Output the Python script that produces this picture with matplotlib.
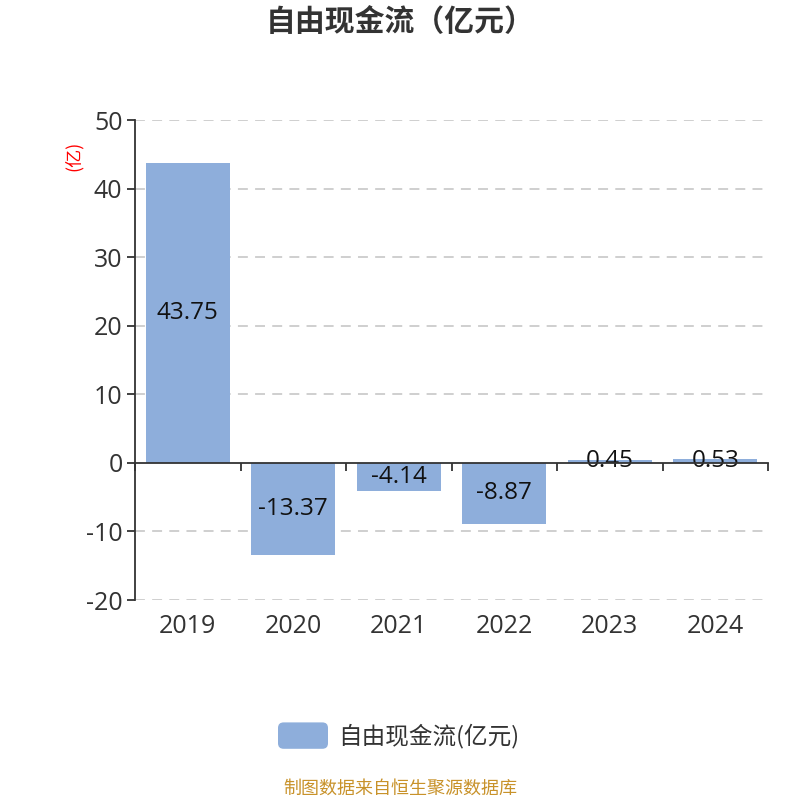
import matplotlib
matplotlib.use('Agg')
import matplotlib.pyplot as plt
from matplotlib.patches import FancyBboxPatch

plt.rcParams['font.family'] = ['Noto Sans CJK SC', 'DejaVu Sans']
num_font = ['Open Sans', 'Noto Sans CJK SC']

# data
years = ['2019', '2020', '2021', '2022', '2023', '2024']
fcf = [43.75, -13.37, -4.14, -8.87, 0.45, 0.53]
yticks = [-20, -10, 0, 10, 20, 30, 40, 50]

bar_color = '#8eaedb'
axis_color = '#333333'

fig = plt.figure(figsize=(8, 8), dpi=100)
ax = fig.add_axes([0.16875, 0.25, 0.79125, 0.60])

x = list(range(len(years)))
bars = ax.bar(x, fcf, width=0.8, color=bar_color, zorder=2)

# labels in the middle of each bar
for xi, v in zip(x, fcf):
    ax.text(xi, v / 2, f'{v:.2f}', ha='center', va='center',
            fontsize=17.5, color='#111111', family=num_font, zorder=3)

ax.set_xlim(-0.5, len(years) - 0.5)
ax.set_ylim(-20, 50)
ax.set_yticks(yticks)
ax.set_yticklabels([str(t) for t in yticks], family=num_font)

# grid
for t in yticks:
    if t != 0:
        ax.axhline(t, color='#cccccc', linestyle=(0, (5.5, 4)), linewidth=1.3, zorder=1)

# spines
for s in ['top', 'right']:
    ax.spines[s].set_visible(False)
ax.spines['left'].set_color(axis_color)
ax.spines['left'].set_linewidth(1.3)
ax.spines['bottom'].set_position(('data', 0))
ax.spines['bottom'].set_color(axis_color)
ax.spines['bottom'].set_linewidth(1.3)
ax.spines['bottom'].set_zorder(4)

ax.set_xticks([i - 0.5 for i in range(len(years) + 1)])
ax.set_xticklabels([])
ax.tick_params(axis='x', direction='out', length=6, width=1.3, color=axis_color)
ax.tick_params(axis='y', direction='out', length=6, width=1.3, color=axis_color,
               labelsize=18, labelcolor=axis_color, pad=3)

# category labels at the bottom of the plot area
sec = ax.secondary_xaxis('bottom')
sec.set_xticks(x)
sec.set_xticklabels(years, family=num_font)
sec.tick_params(length=0, labelsize=18, labelcolor=axis_color, pad=10)
sec.spines['bottom'].set_visible(False)

# unit label
fig.text(0.0915, 0.8055, '(亿)', color='red', fontsize=13, rotation=90,
         ha='center', va='center')

# title
fig.text(0.5, 0.972, '自由现金流（亿元）', fontsize=21.5, fontweight='bold',
         color=axis_color, ha='center', va='center')

# legend
patch = FancyBboxPatch((0.3475, 0.064), 0.0625, 0.033,
                       boxstyle='round,pad=0,rounding_size=0.007',
                       transform=fig.transFigure, facecolor=bar_color,
                       edgecolor='none')
fig.patches.append(patch)
fig.text(0.423, 0.0806, '自由现金流(亿元)', fontsize=17, color=axis_color,
         ha='left', va='center')

# footer
fig.text(0.5, 0.0138, '制图数据来自恒生聚源数据库', fontsize=13,
         color='#c8922a', ha='center', va='center')

fig.savefig('out.png', dpi=100)
